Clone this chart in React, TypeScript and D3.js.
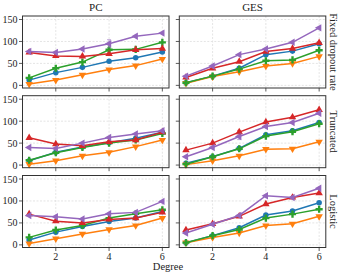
import * as d3 from 'd3'

// x = polynomial degree
const degrees = [1, 2, 3, 4, 5, 6]
const methods = ['PC', 'GES']
const settings = ['Fixed dropout rate', 'Truncated', 'Logistic']
const yTicks = [0, 50, 100, 150]
const xTicks = [2, 4, 6]

// series order: blue, orange, green, red, purple
const colors = ['#1f77b4', '#ff7f0e', '#2ca02c', '#d62728', '#9467bd']

// values[setting][method][series]
const fixedPC = [
  [12, 29, 41, 55, 63, 76],
  [3, 12, 24, 36, 45, 60],
  [17, 39, 53, 81, 82, 98],
  [75, 67, 66, 72, 81, 84],
  [77, 75, 83, 95, 112, 119],
]
const fixedGES = [
  [6, 21, 39, 70, 78, 95],
  [5, 20, 31, 44, 50, 66],
  [6, 21, 37, 56, 58, 80],
  [18, 39, 54, 77, 84, 97],
  [21, 44, 70, 83, 98, 131],
]
const truncPC = [
  [10, 29, 41, 51, 61, 75],
  [2, 10, 21, 29, 42, 57],
  [11, 28, 40, 50, 57, 72],
  [62, 48, 44, 53, 57, 75],
  [40, 38, 50, 63, 71, 78],
]
const truncGES = [
  [4, 19, 38, 69, 78, 97],
  [1, 10, 21, 36, 37, 53],
  [2, 19, 37, 66, 76, 94],
  [34, 50, 75, 98, 109, 126],
  [19, 40, 65, 88, 97, 118],
]
const logPC = [
  [11, 29, 42, 53, 61, 76],
  [3, 14, 25, 35, 44, 61],
  [17, 34, 44, 61, 71, 80],
  [70, 54, 50, 58, 61, 74],
  [67, 64, 59, 71, 74, 99],
]
const logGES = [
  [5, 21, 39, 68, 77, 96],
  [5, 17, 27, 44, 48, 65],
  [5, 21, 35, 61, 70, 81],
  [34, 48, 65, 93, 108, 118],
  [27, 47, 67, 112, 108, 129],
]
const values = [
  [fixedPC, fixedGES],
  [truncPC, truncGES],
  [logPC, logGES],
]

// a few visible error bars: [row, col, series, degree, half-width]
const errBars = [
  [0, 0, 4, 4, 9],
  [0, 0, 2, 4, 4],
  [1, 1, 4, 3, 7],
  [1, 1, 3, 3, 4],
  [1, 0, 3, 5, 4],
]

const colX = [22.5, 179.3]
const rowY = [16, 95.7, 175.5]
const pw = 146.5
const ph = 72
const font = '"Liberation Serif", "DejaVu Serif", serif'

function marker(i: number) {
  const types = [d3.symbolCircle, d3.symbolTriangle, d3.symbolCross, d3.symbolTriangle, d3.symbolTriangle]
  const sizes = [24, 24, 28, 24, 24]
  return d3.symbol().type(types[i]).size(sizes[i])() as string
}
const rot = [0, 180, 0, 0, -90]

export default function App() {
  const x = d3.scaleLinear().domain([0.75, 6.25]).range([0, pw])
  const y = d3.scaleLinear().domain([-6, 158]).range([ph, 0])
  const line = d3.line<number>().x((_, i) => x(degrees[i])).y(d => y(d))

  return (
    <svg width={343} height={273} style={{ position: 'absolute', left: 0, top: 0, fontFamily: font }}>
      <rect width={343} height={273} fill="#fff" />
      {methods.map((m, c) => (
        <text key={m} x={colX[c] + pw / 2} y={11} textAnchor="middle" fontSize={11} fill="#222">{m}</text>
      ))}
      {settings.map((s, r) => (
        <text key={s} transform={`translate(332,${rowY[r] + ph / 2}) rotate(90)`} textAnchor="middle"
          dominantBaseline="middle" fontSize={10.5} fill="#222">{s}</text>
      ))}
      {values.map((rowVals, r) =>
        rowVals.map((panel, c) => (
          <g key={`${r}-${c}`} transform={`translate(${colX[c]},${rowY[r]})`}>
            {xTicks.map(t => (
              <line key={'gx' + t} x1={x(t)} x2={x(t)} y1={0} y2={ph} stroke="#ddd" strokeWidth={0.8} strokeDasharray="2,1.5" />
            ))}
            {yTicks.map(t => (
              <line key={'gy' + t} x1={0} x2={pw} y1={y(t)} y2={y(t)} stroke="#ddd" strokeWidth={0.8} strokeDasharray="2,1.5" />
            ))}
            {panel.map((ser, i) => (
              <g key={i}>
                <path d={line(ser) as string} fill="none" stroke={colors[i]} strokeWidth={1.5} />
                {ser.map((v, j) => (
                  <path key={j} d={marker(i)} fill={colors[i]}
                    transform={`translate(${x(degrees[j])},${y(v)}) rotate(${rot[i]})`} />
                ))}
              </g>
            ))}
            {errBars.filter(e => e[0] === r && e[1] === c).map((e, k) => {
              const v = panel[e[2]][e[3] - 1]
              const px = x(e[3])
              return (
                <g key={'e' + k} stroke={colors[e[2]]} strokeWidth={1} opacity={0.6}>
                  <line x1={px} x2={px} y1={y(v - e[4])} y2={y(v + e[4])} />
                  <line x1={px - 2} x2={px + 2} y1={y(v + e[4])} y2={y(v + e[4])} />
                  <line x1={px - 2} x2={px + 2} y1={y(v - e[4])} y2={y(v - e[4])} />
                </g>
              )
            })}
            <rect x={0} y={0} width={pw} height={ph} fill="none" stroke="#333" strokeWidth={1} />
            {yTicks.map(t => (
              <line key={'ty' + t} x1={-3.5} x2={0} y1={y(t)} y2={y(t)} stroke="#333" strokeWidth={0.8} />
            ))}
            {xTicks.map(t => (
              <line key={'tx' + t} x1={x(t)} x2={x(t)} y1={ph} y2={ph + 3.5} stroke="#333" strokeWidth={0.8} />
            ))}
            {c === 0 && yTicks.map(t => (
              <text key={'ly' + t} x={-5} y={y(t)} textAnchor="end" dominantBaseline="central" fontSize={10} fill="#222">{t}</text>
            ))}
            {r === 2 && xTicks.map(t => (
              <text key={'lx' + t} x={x(t)} y={ph + 12} textAnchor="middle" fontSize={10} fill="#222">{t}</text>
            ))}
          </g>
        ))
      )}
      <text x={168} y={269.5} textAnchor="middle" fontSize={10.5} fill="#222">Degree</text>
    </svg>
  )
}
